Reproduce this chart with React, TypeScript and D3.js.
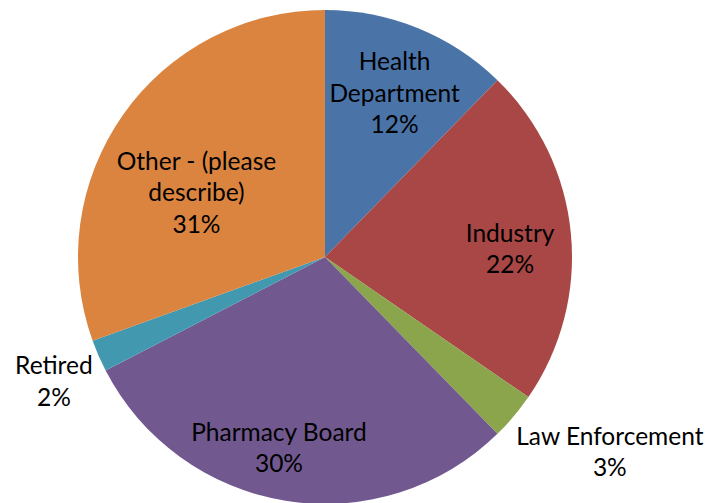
import React from "react";
import * as d3 from "d3";

const categories = ["Health Department", "Industry", "Law Enforcement", "Pharmacy Board", "Retired", "Other - (please describe)"];
const values = [12.3, 22.3, 3.1, 29.7, 2.1, 30.5];
const percentLabels = ["12%", "22%", "3%", "30%", "2%", "31%"];
const labelLines = [["Health", "Department"], ["Industry"], ["Law Enforcement"], ["Pharmacy Board"], ["Retired"], ["Other - (please", "describe)"]];
const colors = ["#4A74A8", "#A84745", "#8AA54C", "#71588F", "#4198AF", "#DA843F"];
const labelRadius = [0.717, 0.75, 1.40, 0.80, 1.21, 0.58];
const labelAngleShift = [1, 3.4, -5.6, 4.3, -1.3, -8.9];

const W = 708, H = 503;
const cx = 325, cy = 257, R = 247;
const FONT = 24.5, LH = 31.5;

export default function App() {
  const pie = d3.pie<number>().sort(null).value((d) => d);
  const arcs = pie(values);
  const arc = d3.arc<d3.PieArcDatum<number>>().innerRadius(0).outerRadius(R);
  return (
    <svg width={W} height={H} style={{ position: "absolute", left: 0, top: 0, display: "block" }}>
      <rect width={W} height={H} fill="#fff" />
      <g transform={`translate(${cx},${cy})`}>
        {arcs.map((a, i) => (
          <path key={i} d={arc(a) || ""} fill={colors[i]}><title>{categories[i]}</title></path>
        ))}
        {arcs.map((a, i) => {
          const mid = (a.startAngle + a.endAngle) / 2 + (labelAngleShift[i] * Math.PI) / 180;
          const r = labelRadius[i] * R;
          const x = Math.sin(mid) * r;
          const y = -Math.cos(mid) * r;
          const lines = [...labelLines[i], percentLabels[i]];
          const y0 = y - ((lines.length - 1) * LH) / 2 + 7.5;
          return (
            <text key={i} x={x} y={y0} textAnchor="middle" fontFamily="Lato, 'Open Sans', sans-serif" fontSize={FONT} fill="#000">
              {lines.map((l, j) => (
                <tspan key={j} x={x} y={y0 + j * LH}>{l}</tspan>
              ))}
            </text>
          );
        })}
      </g>
    </svg>
  );
}
